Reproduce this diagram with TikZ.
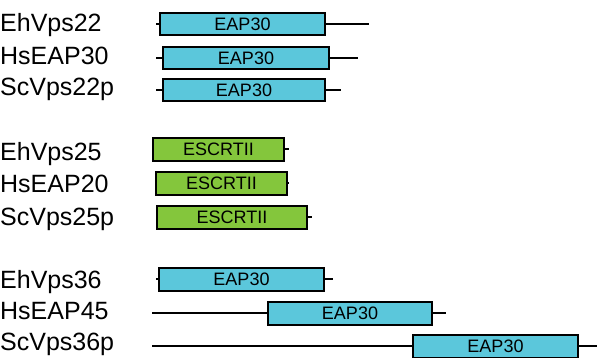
\documentclass[tikz,border=0pt]{standalone}
\usepackage{fontspec}
\setmainfont{Liberation Sans}
\definecolor{eapcyan}{RGB}{91,199,219}
\definecolor{escgreen}{RGB}{132,198,60}
\begin{document}
\begin{tikzpicture}[x=1pt,y=1pt,
  lbl/.style={anchor=base west,inner sep=0pt,font=\fontsize{25}{30}\selectfont},
  dom/.style={draw=black,line width=2pt,inner sep=0pt,minimum height=22pt,font=\fontsize{18}{20}\selectfont},
  eap/.style={dom,fill=eapcyan},
  esc/.style={dom,fill=escgreen,minimum height=23pt},
  ln/.style={line width=1.8pt}]
\useasboundingbox (0,0) rectangle (597,-357);
% labels
\node[lbl] (t1) at (0,-31) {EhVps22};
\node[lbl] (t2) at (0,-64) {HsEAP30};
\node[lbl] (t3) at (0,-95) {ScVps22p};
\node[lbl] (t4) at (0,-160) {EhVps25};
\node[lbl] (t5) at (0,-192) {HsEAP20};
\node[lbl] (t6) at (0,-225) {ScVps25p};
\node[lbl] (t7) at (0,-288) {EhVps36};
\node[lbl] (t8) at (0,-319) {HsEAP45};
\node[lbl] (t9) at (0,-350) {ScVps36p};
% line ends
\coordinate (s1) at (156,-24);  \coordinate (e1) at (369,-24);
\coordinate (s2) at (156,-58);  \coordinate (e2) at (358,-58);
\coordinate (s3) at (156,-90);  \coordinate (e3) at (341,-90);
\coordinate (s4) at (153,-149); \coordinate (e4) at (289,-149);
\coordinate (s5) at (155,-183); \coordinate (e5) at (289,-183);
\coordinate (s6) at (157,-217); \coordinate (e6) at (312,-217);
\coordinate (s7) at (156,-279); \coordinate (e7) at (333,-279);
\coordinate (s8) at (152,-313); \coordinate (e8) at (446,-313);
\coordinate (s9) at (152,-346); \coordinate (e9) at (597,-346);
\foreach \i in {1,...,9} {\draw[ln] (s\i) -- (e\i);}
% domains
\node[eap,minimum width=165pt] (b1) at (242.5,-24) {EAP30};
\node[eap,minimum width=166pt] (b2) at (246,-58) {EAP30};
\node[eap,minimum width=162pt] (b3) at (244,-90) {EAP30};
\node[esc,minimum width=131pt] (b4) at (218.5,-149) {ESCRTII};
\node[esc,minimum width=131pt] (b5) at (221.5,-183) {ESCRTII};
\node[esc,minimum width=150pt] (b6) at (232,-217) {ESCRTII};
\node[eap,minimum width=165pt,minimum height=23pt] (b7) at (241.5,-279) {EAP30};
\node[eap,minimum width=164pt,minimum height=23pt] (b8) at (350,-313) {EAP30};
\node[eap,minimum width=165pt,minimum height=23pt] (b9) at (495.5,-346.5) {EAP30};
\end{tikzpicture}
\end{document}
